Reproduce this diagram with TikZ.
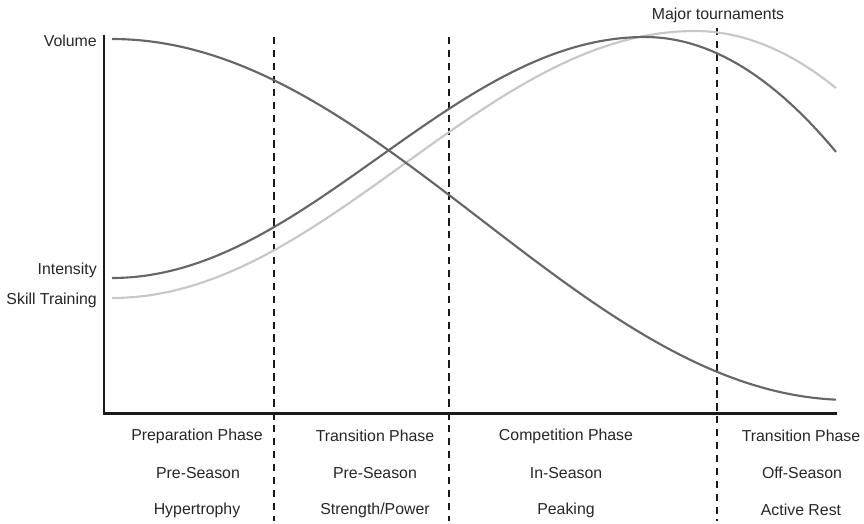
\documentclass[tikz,border=0pt]{standalone}
\usepackage{fontspec}
\setmainfont{Liberation Sans}
\begin{document}
\begin{tikzpicture}[x=0.75pt,y=-0.75pt,
  every node/.style={font=\fontsize{11.9}{14}\selectfont, text=black!85, inner sep=0pt},
  axisline/.style={line width=2.2pt, draw=black!90},
  phaseline/.style={line width=2.2pt, draw=black!90, dash pattern=on 5.6pt off 4.1pt},
  darkcurve/.style={line width=1.6pt, draw=black!60},
  lightcurve/.style={line width=1.6pt, draw=black!22},
  ylab/.style={anchor=east},
  phaselab/.style={anchor=center}]
  \useasboundingbox (0,0) rectangle (864,524);

  % axes
  \coordinate (origin) at (104,413.5);
  \coordinate (ytop) at (104,35);
  \coordinate (xend) at (837,413.5);
  \draw[axisline] (ytop) -- (origin) -- (xend);

  % phase boundaries
  \coordinate (d1t) at (274,37);  \coordinate (d1b) at (274,521);
  \coordinate (d2t) at (449,37);  \coordinate (d2b) at (449,521);
  \coordinate (d3t) at (717,28);  \coordinate (d3b) at (717,521);
  \draw[phaseline] (d1t) -- (d1b);
  \draw[phaseline] (d2t) -- (d2b);
  \draw[phaseline] (d3t) -- (d3b);

  % skill training
  \draw[lightcurve] plot[domain=112:695, samples=90]
      (\x, {31 + 133.5*(1+cos((\x-112)/583*180))})
    -- plot[domain=695:836, samples=30]
      (\x, {31 + 0.287*((\x-695)/10)^2});

  % intensity
  \draw[darkcurve] plot[domain=112:645, samples=90]
      (\x, {37 + 120.5*(1+cos((\x-112)/533*180))})
    -- plot[domain=645:836, samples=30]
      (\x, {37 + 0.315*((\x-645)/10)^2});

  % volume
  \draw[darkcurve] plot[domain=112:836, samples=120]
      (\x, {39 + 180.5*(1-cos((\x-112)/738*180))});

  % curve labels
  \node[ylab] (volume) at (97,41) {Volume};
  \node[ylab] (intensity) at (97,270) {Intensity};
  \node[ylab] (skill) at (97,300) {Skill Training};
  \node (major) at (718,15) {Major tournaments};

  % phase descriptions
  \node[phaselab] (p1a) at (197,436) {Preparation Phase};
  \node[phaselab] (p1b) at (198,473) {Pre-Season};
  \node[phaselab] (p1c) at (197,510) {Hypertrophy};
  \node[phaselab] (p2a) at (375,436) {Transition Phase};
  \node[phaselab] (p2b) at (375,473) {Pre-Season};
  \node[phaselab] (p2c) at (375,510) {Strength/Power};
  \node[phaselab] (p3a) at (566,436) {Competition Phase};
  \node[phaselab] (p3b) at (566,473) {In-Season};
  \node[phaselab] (p3c) at (566,510) {Peaking};
  \node[phaselab] (p4a) at (801,436) {Transition Phase};
  \node[phaselab] (p4b) at (802,473) {Off-Season};
  \node[phaselab] (p4c) at (801,510) {Active Rest};
\end{tikzpicture}
\end{document}
